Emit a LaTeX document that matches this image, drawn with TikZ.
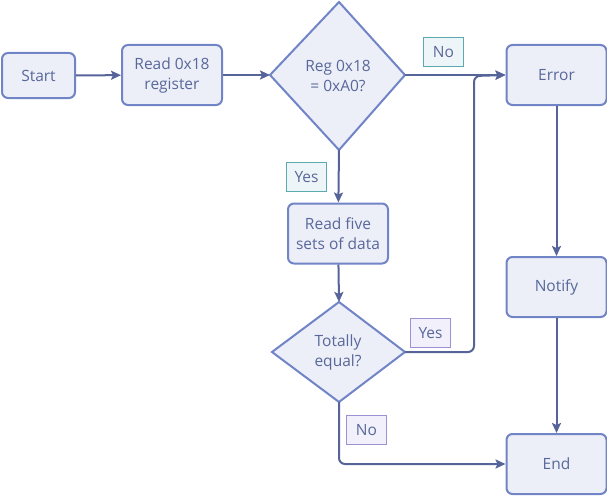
\documentclass[tikz,border=0pt]{standalone}
\usepackage{fontspec}
\setmainfont{Open Sans}
\usetikzlibrary{arrows.meta}
\definecolor{boxfill}{HTML}{ECEEF8}
\definecolor{boxdraw}{HTML}{7084C6}
\definecolor{txt}{HTML}{58689A}
\definecolor{arr}{HTML}{56649A}
\definecolor{tealdraw}{HTML}{5AAAB0}
\definecolor{tealfill}{HTML}{EEF5F8}
\definecolor{purdraw}{HTML}{9D91D6}
\definecolor{purfill}{HTML}{F2F1FB}
\tikzset{
  x=1pt,y=-1pt,
  base/.style={font=\fontsize{15.5}{20}\selectfont, text=txt, align=center, inner sep=0pt},
  procbox/.style={base, draw=boxdraw, fill=boxfill, line width=2pt, rounded corners=6pt, minimum width=100pt, minimum height=60pt},
  startbox/.style={procbox, minimum width=73pt, minimum height=45pt},
  diamondline/.style={draw=boxdraw, fill=boxfill, line width=2pt, line join=miter},
  lblteal/.style={base, draw=tealdraw, fill=tealfill, line width=1.6pt, minimum width=40pt, minimum height=29pt},
  lblpur/.style={base, draw=purdraw, fill=purfill, line width=1.6pt, minimum width=40pt, minimum height=29pt},
  conn/.style={draw=arr, line width=2pt, -{Stealth[length=10pt,width=9pt,inset=2pt]}, rounded corners=6pt},
}
\begin{document}
\begin{tikzpicture}
\useasboundingbox (0,0) rectangle (607,495);
\node[startbox] (start) at (38.5,75.5) {Start};
\node[procbox] (read) at (172,75) {Read 0x18\\register};
\draw[diamondline] (339,2) -- (405,75) -- (339,150) -- (270,75) -- cycle;
\coordinate (regW) at (270,75);
\coordinate (regE) at (405,75);
\coordinate (regS) at (339,150);
\node[base] (reg) at (338,76) {Reg 0x18\\= 0xA0?};
\node[procbox] (error) at (556.5,75) {Error};
\node[procbox] (five) at (338,233.5) {Read five\\sets of data};
\draw[diamondline] (339,302) -- (405,352) -- (339,402) -- (272,352) -- cycle;
\coordinate (totN) at (339,302);
\coordinate (totE) at (405,352);
\coordinate (totS) at (339,402);
\node[base] (tot) at (338,352) {Totally\\equal?};
\node[procbox] (notify) at (556.5,287) {Notify};
\node[procbox] (end) at (556.5,464) {End};
\node[lblteal] (no1) at (443.5,52) {No};
\node[lblteal] (yes1) at (306.5,177) {Yes};
\node[lblpur] (yes2) at (430.5,333) {Yes};
\node[lblpur] (no2) at (366.5,430) {No};
\draw[conn] (start) -- (read);
\draw[conn] (read) -- (regW);
\draw[conn] (regE) -- (error);
\draw[conn] (regS) -- (five);
\draw[conn] (five) -- (totN);
\draw[conn] (totE) -- (474,352) -- (474,76) -- (error.west);
\draw[conn] (totS) -- (339,464) -- (end.west);
\draw[conn] (error) -- (notify);
\draw[conn] (notify) -- (end);
\end{tikzpicture}
\end{document}
